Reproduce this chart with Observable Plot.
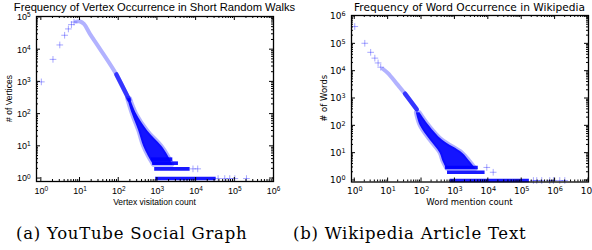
<!DOCTYPE html>
<html><head><meta charset="utf-8">
<script src="https://cdn.jsdelivr.net/npm/d3@7"></script>
<script src="https://cdn.jsdelivr.net/npm/@observablehq/plot@0.6"></script>
<style>
html,body{margin:0;padding:0;background:#fff;}
body{width:592px;height:250px;overflow:hidden;position:relative;}
.panel{position:absolute;top:0;}
.cap{position:absolute;top:224px;font-family:"DejaVu Serif";font-size:16.5px;letter-spacing:0.75px;white-space:nowrap;color:#000;}
</style></head>
<body>
<div id="a" class="panel" style="left:0px"></div>
<div id="b" class="panel" style="left:296px"></div>
<div class="cap" style="left:16px">(a) YouTube Social Graph</div>
<div class="cap" style="left:293px">(b) Wikipedia Article Text</div>
<script>
// ---------- YouTube data ----------
const ytTitle = "Frequency of Vertex Occurrence in Short Random Walks";
const ytXLabel = "Vertex visitation count";
const ytYLabel = "# of Vertices";
const ytPeakX = [1, 2, 3, 4, 5, 6, 7];
const ytPeakY = [1000, 5000, 14000, 28000, 44000, 60000, 72000];
const ytCurveX = [8, 10, 12.6, 18, 32, 87, 186];
const ytCurveY = [74000, 75000, 63000, 31000, 11000, 1700, 280];
const ytBandY = [300, 100, 30, 10, 5, 2.6];
const ytBandX1 = [170, 225, 330, 440, 580, 800];
const ytBandX2 = [200, 290, 560, 1300, 1900, 2500];
const ytRowY = [1, 2, 3, 4];
const ytRowX1 = [900, 850, 750, 700];
const ytRowX2 = [33000, 7000, 3500, 2500];
const ytTailX = [37000, 55000, 74000, 100000, 200000, 8300, 11000];
const ytTailY = [1, 1, 1, 1, 1, 2, 2];
const ytXTicks = [1, 10, 100, 1e3, 1e4, 1e5, 1e6];
const ytYTicks = [1, 10, 100, 1e3, 1e4, 1e5];

// ---------- Wikipedia data ----------
const wkTitle = "Frequency of Word Occurrence in Wikipedia";
const wkXLabel = "Word mention count";
const wkYLabel = "# of Words";
const wkPeakX = [1, 2, 3, 4, 5, 6];
const wkPeakY = [430000, 105000, 49000, 30000, 20000, 14000];
const wkCurveX = [7, 10, 18, 32, 72];
const wkCurveY = [12000, 8300, 3500, 1500, 400];
const wkBandY = [300, 100, 30, 10, 5, 2.6];
const wkBandX1 = [70, 92, 180, 360, 440, 580];
const wkBandX2 = [90, 170, 420, 1700, 2800, 4300];
const wkRowY = [1, 2, 3];
const wkRowX1 = [720, 600, 520];
const wkRowX2 = [170000, 8000, 5000];
const wkTailX = [224000, 282000, 398000, 692000, 891000, 1380000, 1950000, 14000, 9000];
const wkTailY = [1, 1, 1, 1, 1, 1, 1, 2, 3];
const wkXTicks = [1, 10, 100, 1e3, 1e4, 1e5, 1e6, 1e7];
const wkYTicks = [1, 10, 100, 1e3, 1e4, 1e5, 1e6];

const BLUE = "#0000ff";
const H = 212;

function build(cfg) {
  const pts = cfg.peakX.map((x, i) => ({x, y: cfg.peakY[i]}));
  const curve = cfg.curveX.map((x, i) => ({x, y: cfg.curveY[i]}));
  const band = cfg.bandY.map((y, i) => ({y, x1: cfg.bandX1[i], x2: cfg.bandX2[i]}));
  const rows = cfg.rowY.map((y, i) => ({y, x1: cfg.rowX1[i], x2: cfg.rowX2[i]}));
  const tail = cfg.tailX.map((x, i) => ({x, y: cfg.tailY[i]}));
  const fmt = d => "10^" + Math.round(Math.log10(d));
  const svg = Plot.plot({
    width: 296, height: H,
    marginLeft: cfg.mL, marginRight: cfg.mR, marginTop: cfg.mT, marginBottom: cfg.mB,
    style: {fontFamily: cfg.font, fontSize: "9px", background: "transparent", overflow: "visible", color: "#000"},
    x: {type: "log", domain: cfg.xDom, ticks: cfg.xTicks, tickFormat: fmt, tickSize: 0, tickPadding: 6, label: null},
    y: {type: "log", domain: cfg.yDom, ticks: cfg.yTicks, tickFormat: fmt, tickSize: 0, tickPadding: 6, label: null},
    marks: [
      Plot.line(curve, {x: "x", y: "y", stroke: BLUE, strokeWidth: 4, strokeOpacity: 0.3, curve: "catmull-rom"}),
      Plot.line(curve.filter(d => d.y < 2500), {x: "x", y: "y", stroke: BLUE, strokeWidth: 4.5, strokeOpacity: 0.7, curve: "catmull-rom"}),
      Plot.areaX(band, {y: "y", x1: "x1", x2: "x2", fill: BLUE, fillOpacity: 0.92, stroke: BLUE, strokeOpacity: 0.3, strokeWidth: 4, curve: "catmull-rom"}),
      Plot.ruleY(rows, {y: "y", x1: "x1", x2: "x2", stroke: BLUE, strokeWidth: 3.6, strokeOpacity: 0.9}),
      Plot.dot(pts, {x: "x", y: "y", symbol: "plus", r: 2.3, stroke: BLUE, strokeOpacity: 0.35, strokeWidth: 1}),
      Plot.dot(tail, {x: "x", y: "y", symbol: "plus", r: 2.3, stroke: BLUE, strokeOpacity: 0.35, strokeWidth: 1}),
      Plot.frame({stroke: "#000", strokeWidth: 1.3})
    ]
  });
  const s = d3.select(svg);
  s.selectAll("text").each(function () {
    const m = /^10\^(-?\d+)$/.exec(this.textContent);
    if (m) {
      const t = d3.select(this);
      t.text("10");
      t.append("tspan").attr("dy", "-0.45em").attr("font-size", "0.72em").text(m[1]);
    }
  });
  const sx = svg.scale("x"), sy = svg.scale("y");
  const x0 = cfg.mL, x1 = 296 - cfg.mR, y0 = cfg.mT, y1 = H - cfg.mB;
  const g = s.append("g").attr("stroke", "#000").attr("stroke-width", 1);
  const inX = v => v >= cfg.xDom[0] && v <= cfg.xDom[1];
  const inY = v => v >= cfg.yDom[0] && v <= cfg.yDom[1];
  for (const t of cfg.xTicks) {
    for (let m = 1; m <= 9; m++) {
      const v = t * m; if (!inX(v)) continue;
      const px = sx.apply(v), L = m === 1 ? 4 : 2;
      g.append("line").attr("x1", px).attr("x2", px).attr("y1", y1).attr("y2", y1 - L);
      g.append("line").attr("x1", px).attr("x2", px).attr("y1", y0).attr("y2", y0 + L);
    }
  }
  for (const t of cfg.yTicks) {
    for (let m = 1; m <= 9; m++) {
      const v = t * m; if (!inY(v)) continue;
      const py = sy.apply(v), L = m === 1 ? 4 : 2;
      g.append("line").attr("y1", py).attr("y2", py).attr("x1", x0).attr("x2", x0 + L);
      g.append("line").attr("y1", py).attr("y2", py).attr("x1", x1).attr("x2", x1 - L);
    }
  }
  s.append("text").attr("x", (x0 + x1) / 2).attr("y", 11).attr("text-anchor", "middle")
    .attr("font-size", cfg.titleSize).text(cfg.title);
  s.append("text").attr("x", (x0 + x1) / 2).attr("y", 205).attr("text-anchor", "middle")
    .attr("font-size", "8.5px").text(cfg.xLabel);
  s.append("text").attr("transform", `translate(${cfg.ylx},${(y0 + y1) / 2}) rotate(-90)`)
    .attr("text-anchor", "middle").attr("font-size", "8.5px").text(cfg.yLabel);
  return svg;
}

document.getElementById("a").append(build({
  peakX: ytPeakX, peakY: ytPeakY, curveX: ytCurveX, curveY: ytCurveY,
  bandY: ytBandY, bandX1: ytBandX1, bandX2: ytBandX2,
  rowY: ytRowY, rowX1: ytRowX1, rowX2: ytRowX2, tailX: ytTailX, tailY: ytTailY,
  xTicks: ytXTicks, yTicks: ytYTicks, xDom: [0.75, 1e6], yDom: [0.81, 1.07e5],
  mL: 36, mR: 23, mT: 16, mB: 31, font: "Liberation Sans", titleSize: "11.2px",
  title: ytTitle, xLabel: ytXLabel, yLabel: ytYLabel, ylx: 12
}));
document.getElementById("b").append(build({
  peakX: wkPeakX, peakY: wkPeakY, curveX: wkCurveX, curveY: wkCurveY,
  bandY: wkBandY, bandX1: wkBandX1, bandX2: wkBandX2,
  rowY: wkRowY, rowX1: wkRowX1, rowX2: wkRowX2, tailX: wkTailX, tailY: wkTailY,
  xTicks: wkXTicks, yTicks: wkYTicks, xDom: [0.8, 1e7], yDom: [0.88, 1.09e6],
  mL: 55, mR: 4, mT: 15, mB: 30.5, font: "DejaVu Sans", titleSize: "10.6px",
  title: wkTitle, xLabel: wkXLabel, yLabel: wkYLabel, ylx: 31
}));
</script>
</body></html>
